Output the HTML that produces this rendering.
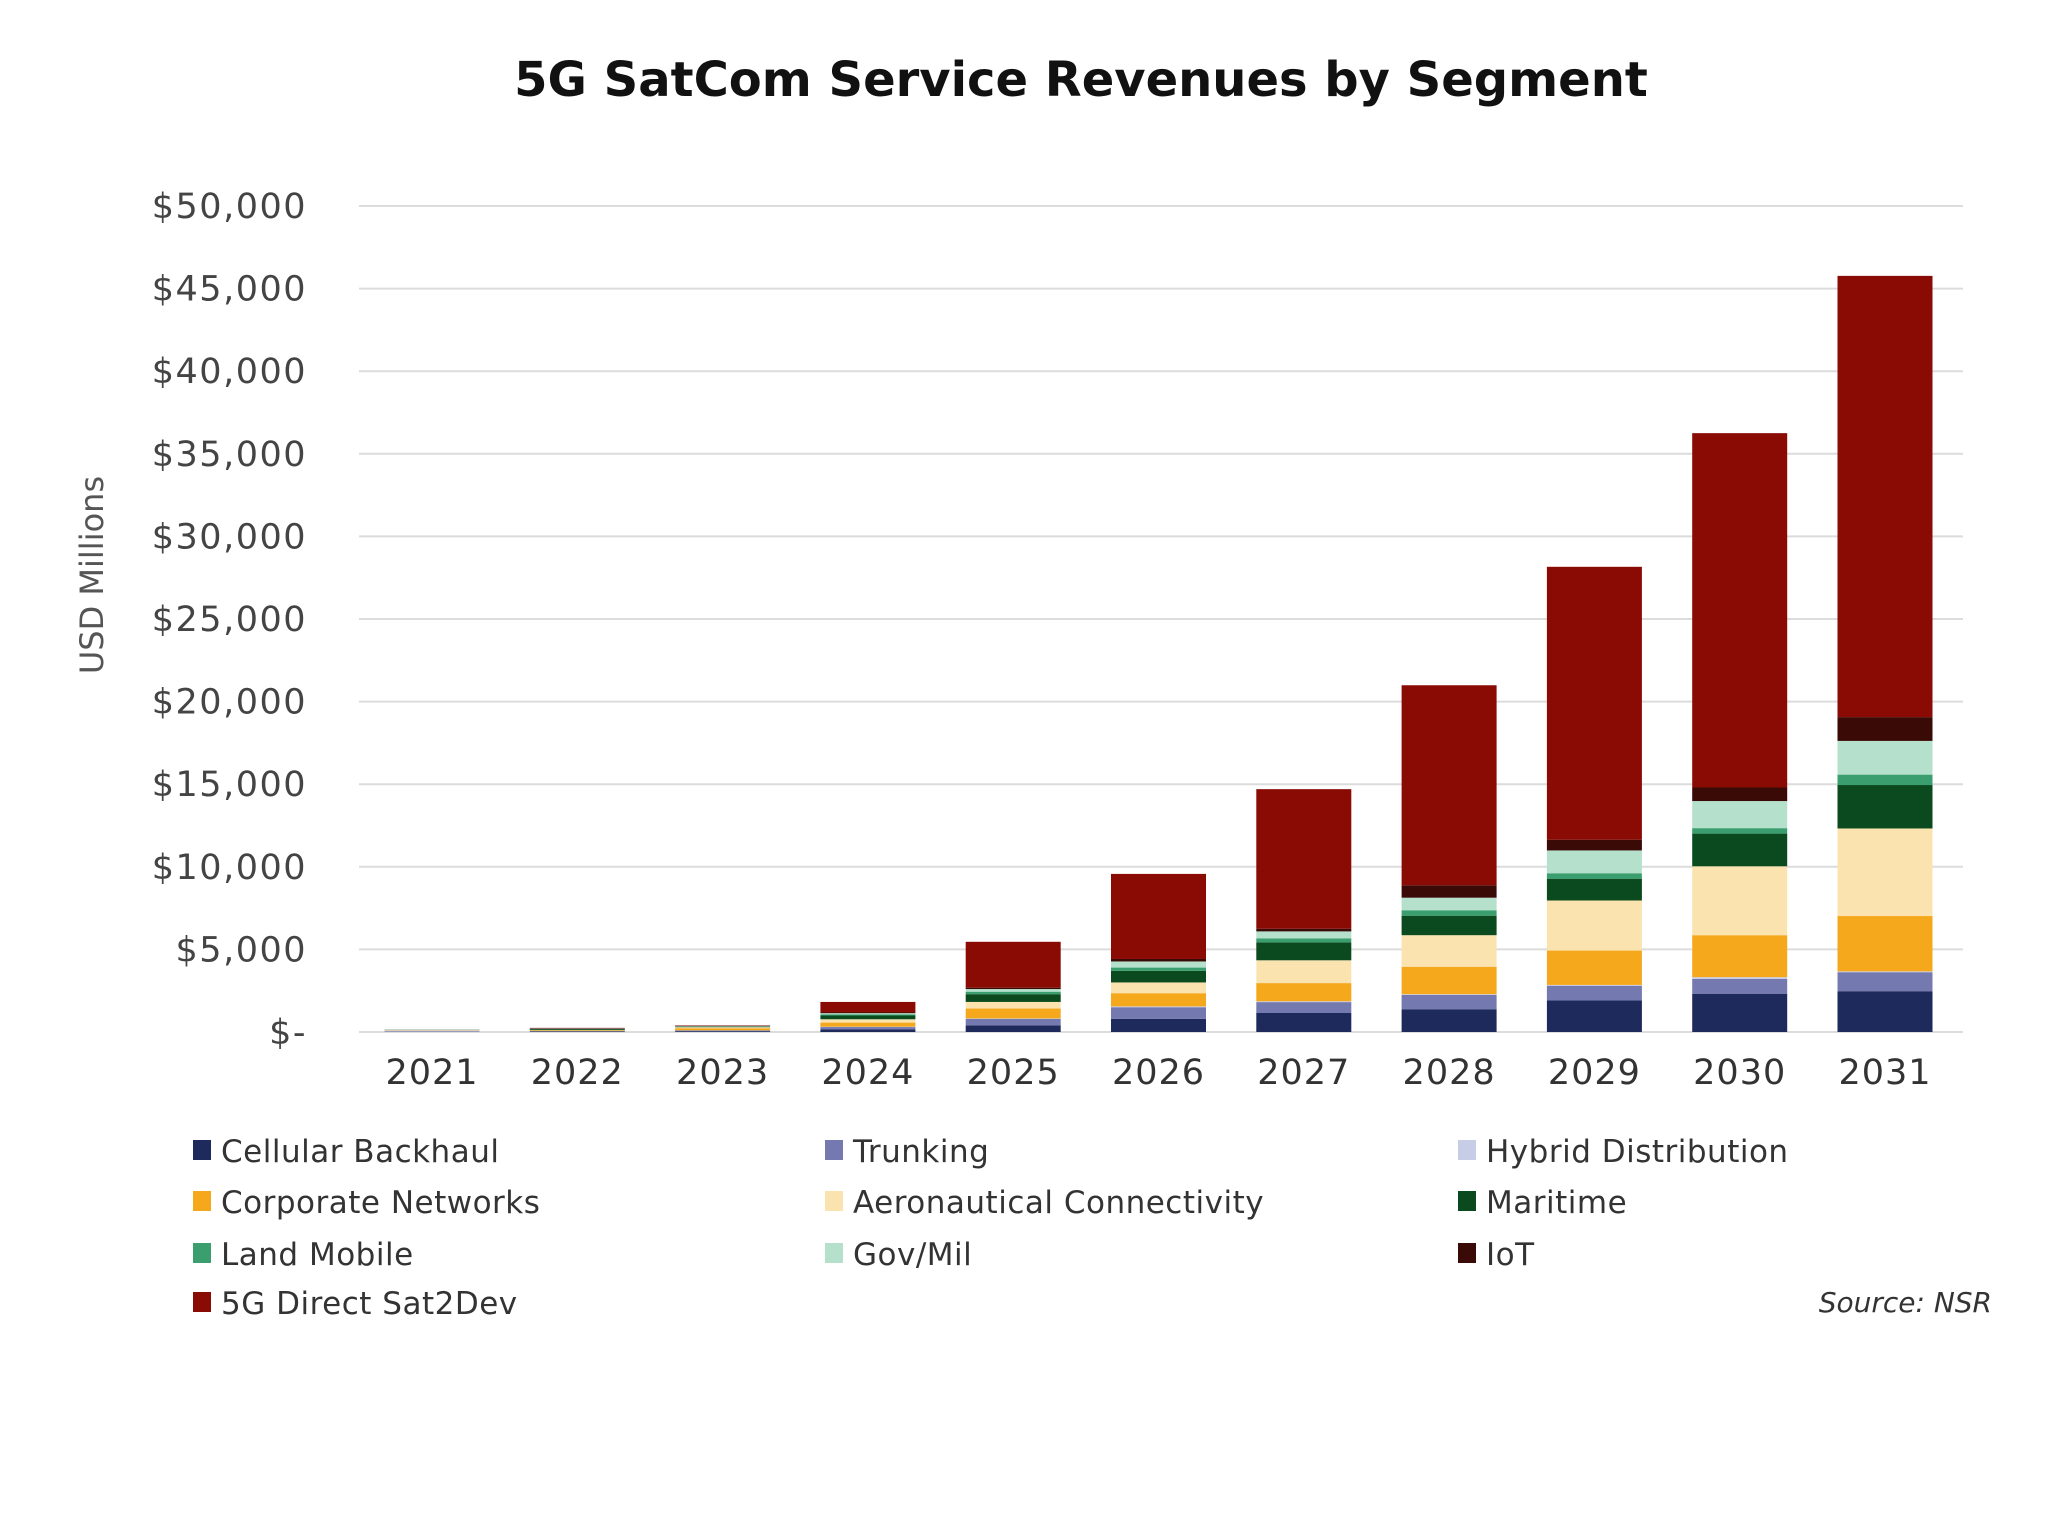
<!DOCTYPE html>
<html><head><meta charset="utf-8"><style>
html,body{margin:0;padding:0;background:#fff;}
svg{display:block;font-family:"DejaVu Sans","Liberation Sans",sans-serif;}
</style></head><body>
<svg id="chart" width="2048" height="1536" viewBox="0 0 2048 1536">
<text x="1081" y="96" text-anchor="middle" font-size="48" font-weight="bold" fill="#111">5G SatCom Service Revenues by Segment</text>
<text transform="translate(103,575) rotate(-90)" text-anchor="middle" font-size="32" fill="#555">USD Millions</text>
<g id="grid"></g><g id="bars"></g><g id="legend"></g>
<text x="1992" y="1312" text-anchor="end" font-size="28" font-style="italic" fill="#333">Source: NSR</text>
</svg>
<script>
const years=["2021","2022","2023","2024","2025","2026","2027","2028","2029","2030","2031"];
const seriesNames=["Cellular Backhaul","Trunking","Hybrid Distribution","Corporate Networks","Aeronautical Connectivity","Maritime","Land Mobile","Gov/Mil","IoT","5G Direct Sat2Dev"];
const seriesColors=["#1f2a5c","#7479b0","#c7cde6","#f5a81c","#fbe3b0","#0b4a1f","#3a9e6e","#b5e0cc","#3a0a06","#8a0a04"];
const cellular=[20,30,50,150,400,800,1150,1380,1910,2300,2470];
const trunking=[10,20,40,150,390,700,660,860,890,920,1150];
const hybrid=[60,5,10,20,30,50,50,50,50,100,50];
const corporate=[20,40,130,250,600,800,1100,1660,2080,2540,3350];
const aero=[10,20,60,200,400,650,1380,1910,3030,4170,5300];
const maritime=[10,60,40,230,470,700,1090,1180,1320,1980,2630];
const landMobile=[5,10,10,60,150,200,230,330,330,330,630];
const govMil=[10,15,20,80,160,370,430,760,1380,1640,2040];
const iot=[5,30,10,40,80,150,160,750,650,820,1440];
const direct5g=[0,20,30,640,2780,5150,8450,12110,16520,21450,26710];
const series=[cellular,trunking,hybrid,corporate,aero,maritime,landMobile,govMil,iot,direct5g];
const yTicks=[0,5000,10000,15000,20000,25000,30000,35000,40000,45000,50000];
const yTickLabels=["$-","$5,000","$10,000","$15,000","$20,000","$25,000","$30,000","$35,000","$40,000","$45,000","$50,000"];

const NS="http://www.w3.org/2000/svg";
const y0=1032,y1=206,vmax=50000;
function yScale(v){return y0-(v/vmax)*(y0-y1);}
const xLeft=359,xRight=1963,step=145.3,first=432,barW=95;
function xScale(i){return first+i*step;}
function mk(tag,attrs,parent){const e=document.createElementNS(NS,tag);for(const k in attrs)e.setAttribute(k,attrs[k]);parent.appendChild(e);return e;}

const grid=document.getElementById('grid');
yTicks.forEach((t,i)=>{
  const l=mk('line',{x1:xLeft,x2:xRight,y1:yScale(t),y2:yScale(t),stroke:"#dcdcdc","stroke-width":2},grid);
  
  
  const tx=mk('text',{x:307,y:yScale(t)+12,"text-anchor":"end","font-size":35,"letter-spacing":"1.5",fill:"#444"},grid);
  tx.textContent=yTickLabels[i];
  
  
});

const bars=document.getElementById('bars');
years.forEach((yr,i)=>{
  let cum=0;
  series.forEach((s,k)=>{
    const v=s[i];
    if(v>0){
      const top=yScale(cum+v),bot=yScale(cum);
      const r=mk('rect',{x:xScale(i)-barW/2,y:top,width:barW,height:bot-top,fill:seriesColors[k]},bars);
      
      
    }
    cum+=v;
  });
  const tx=mk('text',{x:xScale(i),y:1084,"text-anchor":"middle","font-size":35,"letter-spacing":"1",fill:"#333"},bars);
  tx.textContent=yr;
  
  
});

const legend=document.getElementById('legend');
const colX=[193,825,1458],rowY=[1151,1202,1254,1303];
seriesNames.forEach((n,k)=>{
  const c=k%3,r=Math.floor(k/3);
  const g=mk('g',{},legend);
  
  
  mk('rect',{x:colX[c],y:rowY[r]-11,width:18,height:20,fill:seriesColors[k]},g);
  const t=mk('text',{x:colX[c]+28,y:rowY[r]+11,"font-size":31,"letter-spacing":"0.5",fill:"#333"},g);
  t.textContent=n;
});
</script>
</body></html>
